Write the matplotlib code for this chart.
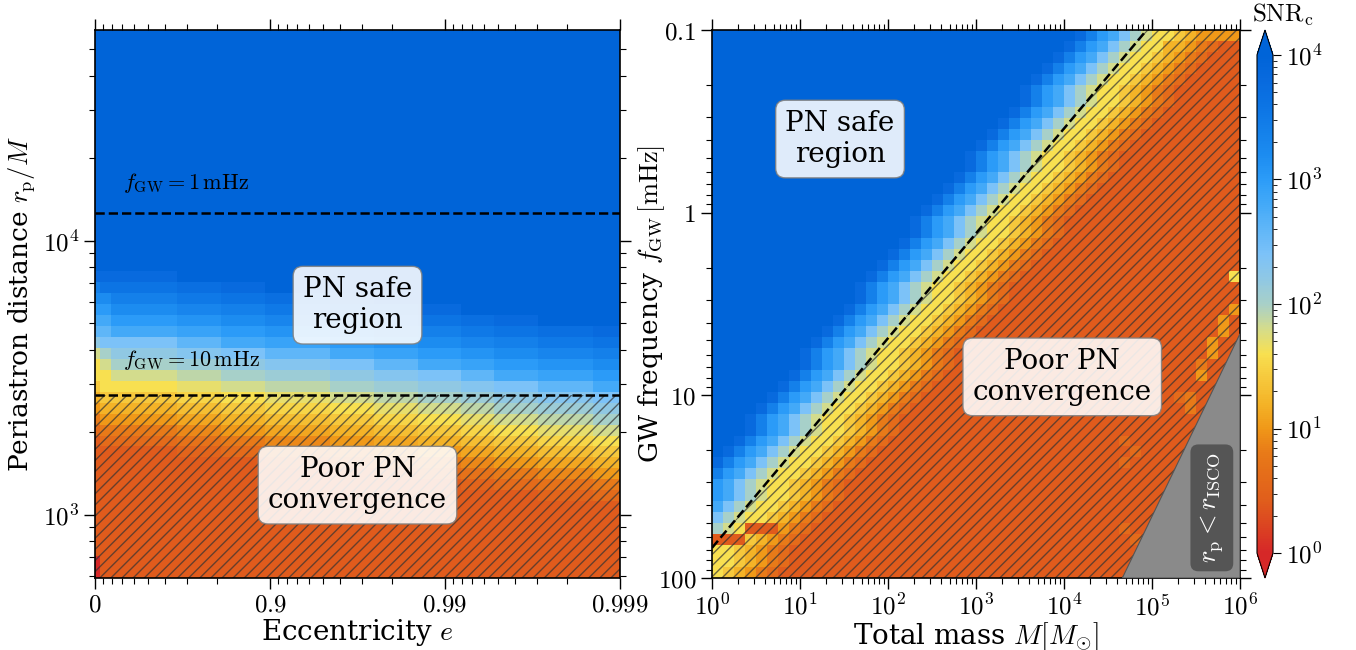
import numpy as np
import matplotlib
matplotlib.use("Agg")
import matplotlib.pyplot as plt
from matplotlib.colors import LinearSegmentedColormap, LogNorm
from matplotlib.ticker import FixedLocator, FuncFormatter, LogLocator, NullFormatter

plt.rcParams["font.family"] = "serif"
plt.rcParams["font.serif"] = ["DejaVu Serif"]
plt.rcParams["mathtext.fontset"] = "cm"
plt.rcParams["hatch.linewidth"] = 1.0

# ------------------------------------------------------------------
# data
# ------------------------------------------------------------------
# cell code -> log10(SNR_c) = 0.2 * position in this string
levels = "0123456789abcdefghijklm"

# colour scale nodes (log10 SNR, colour)
cmap_logsnr = [0.0, 0.4, 0.8, 1.0, 1.2, 1.4, 1.6, 1.8, 2.0, 2.2, 2.4, 2.8, 3.0, 3.2, 3.4, 3.6, 3.8, 4.0]
cmap_colors = ["#d62828", "#e05c1c", "#e87a18", "#f09818", "#f4b428", "#f6c83c", "#f8e050",
               "#d4dc8c", "#a8d0c8", "#90c8e4", "#7cc2f8", "#44aaf8", "#2c9cf8", "#1c8cf0",
               "#1480ea", "#0c74e4", "#086ade", "#0064d8"]

# left panel: eccentricity axis is -log10(1-e); 49 columns, 50 rows in r_p/M
ecc_ticks = [0, 0.9, 0.99, 0.999]
ecc_labels = ["$0$", "$0.9$", "$0.99$", "$0.999$"]
rp_min, rp_max = 588, 58760
rp_1mHz, rp_10mHz = 12660, 2727

# log10 SNR along r_p for small e, sampled every half row from row 11 up
left_profile = [0.4, 0.5, 0.6, 0.7, 0.8, 0.9, 1.0, 1.1, 1.2, 1.3, 1.4, 1.5, 1.6, 1.7, 1.8, 1.9,
                2.0, 2.1, 2.2, 2.3, 2.4, 2.6, 2.8, 2.9, 3.0, 3.1, 3.2, 3.3, 3.4, 3.5, 3.6, 3.7,
                3.8, 4.0, 4.2, 4.3]
left_low, left_high = 0.4, 4.4
# first two columns (e = 0) differ
left_col0 = "00" + "2" * 11 + "34567889bdefghjl" + "m" * 21
left_col1 = "2" * 12 + "34567889acdefgijl" + "m" * 21
# downward shift (half rows) of the profile in columns 2..48
left_shift = [0] * 6 + [1] * 4 + [2] * 4 + [3] * 6 + [4] * 4 + [5] * 4 + [6] * 4 + [7] * 3 \
    + [8] * 4 + [9] * 5 + [10] * 3

# right panel: 48 mass columns (1..1e6), 50 frequency rows (0.1..100 mHz, top to bottom)
right_edge_col = [39, 38, 37, 36, 35, 34, 34, 33, 32, 31, 30, 29, 29, 28, 27, 26, 25, 24, 24, 23,
                  22, 21, 20, 19, 19, 18, 17, 16, 15, 14, 14, 13, 12, 11, 10, 9, 9, 8, 7, 6,
                  5, 4, 4, 3, 2, 1, 0, -1, -1, -2]
right_ramp = "jhfeca98876543"   # index 6 sits on the dashed line
right_spots = [(0, 44, "5"), (0, 45, "5"), (0, 46, "5"), (0, 47, "5"),
               (1, 41, "6"), (2, 41, "6"),
               (45, 3, "2"), (45, 4, "2"), (45, 5, "2"),
               (46, 0, "2"), (46, 1, "2"), (46, 2, "2"),
               (22, 47, "8"), (25, 47, "5"), (26, 46, "5"), (27, 46, "5"),
               (28, 45, "5"), (29, 45, "5"), (30, 44, "4"), (31, 44, "5"),
               (33, 43, "4"), (34, 43, "4"), (33, 42, "3"),
               (37, 37, "3"), (38, 38, "3"), (39, 37, "3"), (45, 37, "3"), (46, 38, "3")]

# convergence threshold line and ISCO boundary
dash_mass = [1.0, 8.71e4]
dash_freq = [68.4, 0.1]
isco_mass = [4.6e4, 1e6, 1e6]
isco_freq = [100, 4.6, 100]

# ------------------------------------------------------------------
# build the grids
# ------------------------------------------------------------------
def code_vals(s):
    return [levels.index(ch) * 0.2 for ch in s]

Zl = np.zeros((50, 49))
Zl[:, 0] = code_vals(left_col0)
Zl[:, 1] = code_vals(left_col1)
for c in range(2, 49):
    for r in range(50):
        k = 2 * r + left_shift[c - 2] - 22
        if k < 0:
            Zl[r, c] = left_low
        elif k >= len(left_profile):
            Zl[r, c] = left_high
        else:
            Zl[r, c] = left_profile[k]

Zr = np.zeros((50, 48))
for r in range(50):
    row = ""
    for c in range(48):
        k = c - right_edge_col[r] + 6
        if k < 0:
            row += "m"
        elif k >= len(right_ramp):
            row += "2"
        else:
            row += right_ramp[k]
    Zr[r] = code_vals(row)
for r, c, ch in right_spots:
    Zr[r, c] = levels.index(ch) * 0.2

cmap = LinearSegmentedColormap.from_list(
    "snr", [(v / 4.0, col) for v, col in zip(cmap_logsnr, cmap_colors)])
cmap.set_over("#0064d8")
cmap.set_under("#d62828")
norm = LogNorm(vmin=1, vmax=1e4)

# ------------------------------------------------------------------
# figure
# ------------------------------------------------------------------
fig = plt.figure(figsize=(13.56, 6.5), dpi=100)
ax1 = fig.add_axes([95 / 1356, 72 / 650, 525 / 1356, 548 / 650])
ax2 = fig.add_axes([712 / 1356, 72 / 650, 528 / 1356, 548 / 650])
cax = fig.add_axes([1257 / 1356, 72 / 650, 16 / 1356, 548 / 650])

hatch_col = (0.2, 0.2, 0.2, 0.7)
fs = 18
box_style = dict(boxstyle="round,pad=0.35", facecolor="white", alpha=0.88, edgecolor="#808080")

# --- left panel
xe = np.linspace(-0.03125, 3.03125, 50)
ye = np.logspace(np.log10(rp_min), np.log10(rp_max), 51)
mesh = ax1.pcolormesh(xe, ye, 10 ** Zl, cmap=cmap, norm=norm)
ax1.set_yscale("log")
ax1.set_xlim(0, 3)
ax1.set_ylim(rp_min, rp_max)
ax1.fill([0, 3, 3, 0], [rp_min, rp_min, rp_10mHz, rp_10mHz], facecolor="none",
         edgecolor=hatch_col, hatch="///", lw=0)
ax1.axhline(rp_1mHz, color="k", ls="--", lw=1.8)
ax1.axhline(rp_10mHz, color="k", ls="--", lw=1.8)
ax1.text(0.16, 10 ** 4.21, r"$f_{\rm GW} = 1\,{\rm mHz}$", fontsize=16, va="center")
ax1.text(0.16, 10 ** 3.565, r"$f_{\rm GW} = 10\,{\rm mHz}$", fontsize=16, va="center")
ax1.text(1.5, 5820, "PN safe\nregion", ha="center", va="center", fontsize=20, bbox=box_style)
ax1.text(1.5, 1283, "Poor PN\nconvergence", ha="center", va="center", fontsize=20, bbox=box_style)

minor_e = [0.1, 0.2, 0.3, 0.4, 0.5, 0.6, 0.7, 0.8] + [0.9 + 0.01 * i for i in range(1, 10)] \
    + [0.99 + 0.001 * i for i in range(1, 9)]
ax1.xaxis.set_major_locator(FixedLocator([-np.log10(1 - e) for e in ecc_ticks]))
ax1.xaxis.set_major_formatter(FuncFormatter(lambda v, p: ecc_labels[int(round(v))]))
ax1.xaxis.set_minor_locator(FixedLocator([-np.log10(1 - e) for e in minor_e]))
ax1.yaxis.set_major_formatter(FuncFormatter(lambda v, p: r"$10^{%d}$" % round(np.log10(v))))
ax1.set_xlabel(r"Eccentricity $e$", fontsize=20, labelpad=0)
ax1.set_ylabel(r"Periastron distance $r_{\rm p}/M$", fontsize=19)

# --- right panel
me = np.logspace(0, 6, 49)
fe = np.logspace(-1, 2, 51)
ax2.pcolormesh(me, fe, 10 ** Zr, cmap=cmap, norm=norm)
ax2.set_xscale("log")
ax2.set_yscale("log")
ax2.set_xlim(1, 1e6)
ax2.set_ylim(100, 0.1)
ax2.fill([dash_mass[0], dash_mass[1], 1e6, 1e6, 1], [dash_freq[0], dash_freq[1], 0.1, 100, 100],
         facecolor="none", edgecolor=hatch_col, hatch="///", lw=0)
ax2.plot(dash_mass, dash_freq, color="k", ls="--", lw=1.8)
ax2.fill(isco_mass, isco_freq, facecolor="#8a8a8a", edgecolor="#555555", lw=0.8, zorder=3)
ax2.text(10 ** 5.68, 10 ** 1.616, r"$r_{\rm p} < r_{\rm ISCO}$", rotation=90, color="white",
         fontsize=19, ha="center", va="center", zorder=4,
         bbox=dict(boxstyle="round,pad=0.3", facecolor="#555555", edgecolor="none"))
ax2.text(10 ** 1.455, 10 ** -0.403, "PN safe\nregion", ha="center", va="center", fontsize=20,
         bbox=box_style, zorder=5)
ax2.text(10 ** 3.98, 10 ** 0.899, "Poor PN\nconvergence", ha="center", va="center", fontsize=20,
         bbox=box_style, zorder=5)
ax2.xaxis.set_major_locator(LogLocator(base=10, numticks=10))
ax2.xaxis.set_major_formatter(FuncFormatter(lambda v, p: r"$10^{%d}$" % round(np.log10(v))))
ax2.xaxis.set_minor_locator(LogLocator(base=10, subs=np.arange(2, 10), numticks=100))
ax2.xaxis.set_minor_formatter(NullFormatter())
ax2.yaxis.set_major_locator(FixedLocator([0.1, 1, 10, 100]))
ax2.yaxis.set_major_formatter(FuncFormatter(lambda v, p: {0.1: "$0.1$", 1: "$1$", 10: "$10$", 100: "$100$"}[round(v, 1)]))
ax2.yaxis.set_minor_locator(LogLocator(base=10, subs=np.arange(2, 10), numticks=100))
ax2.yaxis.set_minor_formatter(NullFormatter())
ax2.set_xlabel(r"Total mass $M[M_{\odot}]$", fontsize=20, labelpad=0)
ax2.set_ylabel(r"GW frequency $f_{\rm GW}\,[{\rm mHz}]$", fontsize=19)
ax2.yaxis.set_label_coords(-0.085, 0.5)

for ax in (ax1, ax2):
    ax.tick_params(which="both", direction="out", top=True, right=True, labelsize=fs)
    ax.tick_params(which="major", length=8, width=1.0)
    ax.tick_params(which="minor", length=4, width=0.8)
    for sp in ax.spines.values():
        sp.set_linewidth(1.2)

# --- colour bar
cb = fig.colorbar(mesh, cax=cax, extend="both")
cb.set_ticks([1, 10, 100, 1000, 10000])
cb.ax.yaxis.set_major_formatter(FuncFormatter(lambda v, p: r"$10^{%d}$" % round(np.log10(v))))
cb.ax.tick_params(labelsize=fs, length=6)
cb.ax.tick_params(which="minor", length=3)
fig.text(1283 / 1356, 1 - 15 / 650, r"$\mathrm{SNR_c}$", fontsize=fs, ha="center", va="center")

fig.savefig("out.png", dpi=100)
